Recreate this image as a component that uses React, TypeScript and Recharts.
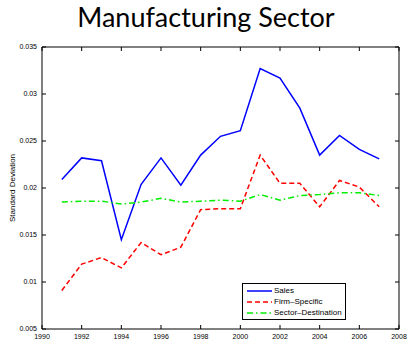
import { Legend, Line, LineChart, ReferenceLine, XAxis, YAxis } from "recharts";

const years = [1991, 1992, 1993, 1994, 1995, 1996, 1997, 1998, 1999, 2000, 2001, 2002, 2003, 2004, 2005, 2006, 2007];
const sales = [0.0209, 0.0232, 0.0229, 0.0145, 0.0204, 0.0232, 0.0203, 0.0235, 0.0255, 0.0261, 0.0327, 0.0317, 0.0285, 0.0235, 0.0256, 0.0241, 0.0231];
const firmSpecific = [0.0091, 0.0119, 0.0126, 0.0115, 0.0142, 0.0129, 0.0137, 0.0177, 0.0178, 0.0178, 0.0235, 0.0205, 0.0205, 0.018, 0.0208, 0.0201, 0.018];
const sectorDestination = [0.0185, 0.0186, 0.0186, 0.0183, 0.0185, 0.0189, 0.0185, 0.0186, 0.0187, 0.0186, 0.0193, 0.0187, 0.0192, 0.0193, 0.0195, 0.0195, 0.0192];

const xTicks = [1990, 1992, 1994, 1996, 1998, 2000, 2002, 2004, 2006, 2008];
const yTicks = [0.005, 0.01, 0.015, 0.02, 0.025, 0.03, 0.035];

const series = [
  { key: "sales", name: "Sales", color: "#0000ff", dash: undefined },
  { key: "firm", name: "Firm–Specific", color: "#ff0000", dash: "5 3" },
  { key: "sector", name: "Sector–Destination", color: "#00ee00", dash: "6 3 1.5 3" }
];

const data = years.map((year, i) => ({
  year,
  sales: sales[i],
  firm: firmSpecific[i],
  sector: sectorDestination[i]
}));

const W = 408;
const H = 339;
const PLOT_W = 357;
const PLOT_H = 282;
const font = "'Liberation Sans', Arial, sans-serif";

function XTick({ x, y, payload }: any) {
  return (
    <g>
      <line x1={x} x2={x} y1={y} y2={y - 4} stroke="#000" />
      <line x1={x} x2={x} y1={y - PLOT_H} y2={y - PLOT_H + 4} stroke="#000" />
      <text x={x} y={y + 10} textAnchor="middle" fontSize={7} fontFamily={font} fill="#000">
        {payload.value}
      </text>
    </g>
  );
}

function YTick({ x, y, payload }: any) {
  return (
    <g>
      <line x1={x} x2={x + 4} y1={y} y2={y} stroke="#000" />
      <line x1={x + PLOT_W} x2={x + PLOT_W - 4} y1={y} y2={y} stroke="#000" />
      <text x={x - 5} y={y} dy="0.35em" textAnchor="end" fontSize={7} fontFamily={font} fill="#000">
        {String(payload.value)}
      </text>
    </g>
  );
}

function LegendBox() {
  return (
    <div
      style={{
        border: "1px solid #000",
        background: "#fff",
        padding: "1px 3px 1px 4px",
        fontFamily: font,
        fontSize: 8,
        whiteSpace: "nowrap",
        display: "inline-block"
      }}
    >
      {series.map((s) => (
        <div key={s.key} style={{ display: "flex", alignItems: "center", height: 11 }}>
          <svg width={25} height={6}>
            <line x1={0} y1={3} x2={25} y2={3} stroke={s.color} strokeWidth={1.5} strokeDasharray={s.dash} />
          </svg>
          <span style={{ marginLeft: 2 }}>{s.name}</span>
        </div>
      ))}
    </div>
  );
}

export default function App() {
  return (
    <div style={{ position: "relative", width: W, height: H, background: "#fff" }}>
      <style>{"body{margin:0}"}</style>
      <div
        style={{
          position: "absolute",
          left: 0,
          top: 3,
          width: 412,
          textAlign: "center",
          fontFamily: "Lato, sans-serif",
          fontSize: 27,
          lineHeight: "27px",
          color: "#000"
        }}
      >
        Manufacturing Sector
      </div>
      <LineChart width={W} height={H} data={data} margin={{ top: 47, right: 9, bottom: 0, left: 0 }}>
        <XAxis
          dataKey="year"
          type="number"
          domain={[1990, 2008]}
          ticks={xTicks}
          interval={0}
          height={10}
          tickLine={false}
          tickSize={0}
          tickMargin={0}
          axisLine={{ stroke: "#000" }}
          tick={<XTick />}
        />
        <YAxis
          type="number"
          domain={[0.005, 0.035]}
          ticks={yTicks}
          interval={0}
          width={42}
          tickLine={false}
          tickSize={0}
          tickMargin={0}
          axisLine={{ stroke: "#000" }}
          tick={<YTick />}
          label={{
            content: (props: any) => {
              const vb = props.viewBox;
              const cx = vb.x + 12;
              const cy = vb.y + vb.height / 2;
              return (
                <text x={cx} y={cy} transform={`rotate(-90, ${cx}, ${cy})`} textAnchor="middle" dy="0.35em" fontSize={8} fontFamily={font} fill="#000">
                  Standard Deviation
                </text>
              );
            }
          }}
        />
        <ReferenceLine y={0.035} stroke="#000" />
        <ReferenceLine x={2008} stroke="#000" />
        {series.map((s) => (
          <Line
            key={s.key}
            dataKey={s.key}
            name={s.name}
            type="linear"
            stroke={s.color}
            strokeWidth={1.5}
            strokeDasharray={s.dash}
            dot={false}
            isAnimationActive={false}
          />
        ))}
        <Legend
          layout="vertical"
          align="center"
          verticalAlign="middle"
          content={<LegendBox />}
          wrapperStyle={{ left: 242, top: 283, width: "auto" }}
        />
      </LineChart>
    </div>
  );
}
